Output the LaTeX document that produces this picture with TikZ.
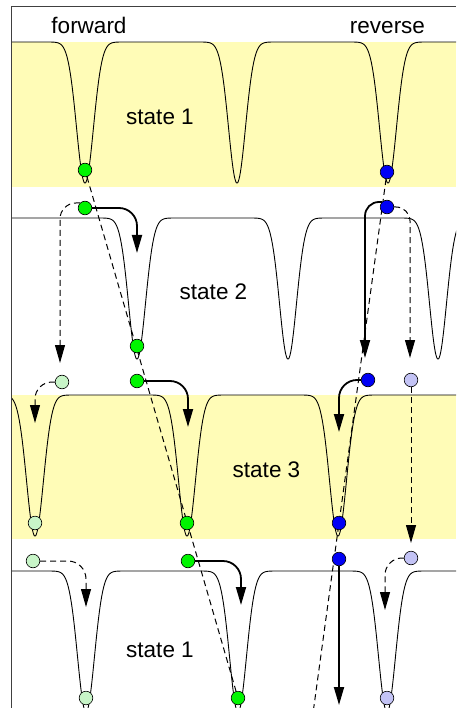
\documentclass[tikz,border=0pt]{standalone}
\usepackage{fontspec}
\setmainfont{Liberation Sans}
\usetikzlibrary{arrows.meta,calc}
\pgfdeclarelayer{bg}
\pgfdeclarelayer{lines}
\pgfsetlayers{bg,lines,main}
\definecolor{bandyellow}{RGB}{255,252,183}
\definecolor{ballgreen}{RGB}{0,245,0}
\definecolor{ballblue}{RGB}{0,0,245}
\definecolor{palegreen}{RGB}{200,245,200}
\definecolor{paleblue}{RGB}{195,195,245}
\begin{document}
\begin{tikzpicture}[x=1pt,y=-1pt,
  declare function={wl(\a,\b)=141*exp(-((\a-\b)*(\a-\b)/144));},
  ball/.style={circle,draw=black,line width=0.6pt,inner sep=0pt,minimum size=13.6pt},
  gball/.style={ball,fill=ballgreen},
  bball/.style={ball,fill=ballblue},
  pgball/.style={ball,fill=palegreen},
  pbball/.style={ball,fill=paleblue},
  pot/.style={line width=0.9pt,black},
  wellplot/.style={samples=161},
  frameline/.style={line width=0.9pt,black!75},
  solidarrow/.style={line width=1.8pt,-{Triangle[length=18pt,width=10pt]},rounded corners=#1},
  solidarrow/.default=18pt,
  dasharrow/.style={line width=1pt,dash pattern=on 6pt off 4pt,-{Triangle[length=18pt,width=10pt]},rounded corners=#1},
  dasharrow/.default=18pt,
  traj/.style={line width=1pt,dash pattern=on 6pt off 4pt},
  lbl/.style={anchor=base,font=\fontsize{22.5}{27}\selectfont,inner sep=0pt}
]
\useasboundingbox (0,0) rectangle (456,708);

% ---------------- balls ----------------
\node[gball] (g1) at (85,170) {};
\node[gball] (g2) at (85,208) {};
\node[gball] (g3) at (137,346) {};
\node[gball] (g4) at (137,381) {};
\node[gball] (g5) at (187,523) {};
\node[gball] (g6) at (188,561) {};
\node[gball] (g7) at (238,698) {};
\node[pgball] (lg1) at (62,382) {};
\node[pgball] (lg2) at (35,523) {};
\node[pgball] (lg3) at (33,561) {};
\node[pgball] (lg4) at (86,698) {};
\node[bball] (b1) at (387,172) {};
\node[bball] (b2) at (387,207) {};
\node[bball] (b3) at (368,380) {};
\node[bball] (b4) at (339,523) {};
\node[bball] (b5) at (339,559) {};
\node[pbball] (lb1) at (411,380) {};
\node[pbball] (lb2) at (411,558) {};
\node[pbball] (lb3) at (387,698) {};

% ---------------- labels ----------------
\node[lbl] (lfwd) at (89,34) {forward};
\node[lbl] (lrev) at (387.5,33.3) {reverse};
\node[lbl] (s1) at (160,125) {state 1};
\node[lbl] (s2) at (213.5,299) {state 2};
\node[lbl] (s3) at (266.5,477) {state 3};
\node[lbl] (s4) at (160,657) {state 1};

% ---------------- arrow end points ----------------
\coordinate (ta1) at (137,253);
\coordinate (ta2) at (60,363);
\coordinate (ta3) at (188,427);
\coordinate (ta4) at (35,423);
\coordinate (ta5) at (241,605);
\coordinate (ta6) at (86,607);
\coordinate (tb1) at (365,358);
\coordinate (tb2) at (410,358);
\coordinate (tb3) at (339,432);
\coordinate (tb4) at (411,543);
\coordinate (tb5) at (339,705);
\coordinate (tb6) at (385,610);
\coordinate (bend) at ($(b1)!1.6!(b4)$);

% ---------------- background: bands, potentials, frame ----------------
\begin{pgfonlayer}{bg}
\fill[bandyellow] (11,42) rectangle (456,187);
\fill[bandyellow] (11,395) rectangle (456,539);
\begin{scope}
\clip (11,0) rectangle (456,708);
\draw[pot] (11,42)
  -- plot[wellplot,domain=49:121] (\x,{42+wl(\x,85)})
  -- plot[wellplot,domain=201:273] (\x,{42+wl(\x,237)})
  -- plot[wellplot,domain=352:424] (\x,{42+wl(\x,388)})
  -- (456,42);
\draw[pot] (11,218)
  -- plot[wellplot,domain=101:173] (\x,{218+wl(\x,137)})
  -- plot[wellplot,domain=252:324] (\x,{218+wl(\x,288)})
  -- plot[wellplot,domain=402:474] (\x,{218+wl(\x,438)});
\draw[pot] plot[wellplot,domain=-1:71] (\x,{395+wl(\x,35)})
  -- plot[wellplot,domain=151:223] (\x,{395+wl(\x,187)})
  -- plot[wellplot,domain=302:374] (\x,{395+wl(\x,338)})
  -- (456,395);
\draw[pot] (11,571)
  -- plot[wellplot,domain=50:122] (\x,{571+wl(\x,86)})
  -- plot[wellplot,domain=202:274] (\x,{571+wl(\x,238)})
  -- plot[wellplot,domain=351:423] (\x,{571+wl(\x,387)})
  -- (456,571);
\end{scope}
\draw[frameline] (11,708) -- (11,6) -- (456,6);
\end{pgfonlayer}

% ---------------- connectors ----------------
\begin{pgfonlayer}{lines}
\draw[traj] (g1) -- (g7);
\draw[traj] (b1) -- (bend);
% forward
\draw[solidarrow] (g2.east) -| (ta1);
\draw[dasharrow=16pt] (g2.north west) -| (ta2);
\draw[solidarrow] (g4.east) -| (ta3);
\draw[dasharrow=17pt] (lg1.west) -| (ta4);
\draw[solidarrow] (g6.east) -| (ta5);
\draw[dasharrow] (lg3.east) -| (ta6);
% reverse
\draw[solidarrow=14pt] (b2.north west) -| (tb1);
\draw[dasharrow=14pt] (b2.east) -| (tb2);
\draw[solidarrow] (b3.west) -| (tb3);
\draw[dasharrow] (lb1.south) -- (tb4);
\draw[solidarrow] (b5.south) -- (tb5);
\draw[dasharrow=17pt] (lb2.west) -| (tb6);
\end{pgfonlayer}
\end{tikzpicture}
\end{document}
